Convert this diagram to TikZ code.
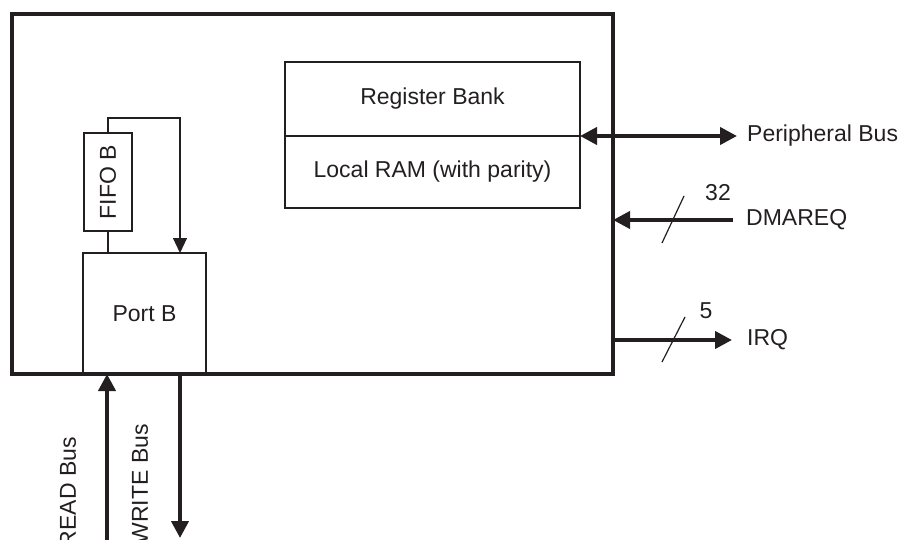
\documentclass[tikz,border=0pt]{standalone}
\usepackage{fontspec}
\setmainfont{Liberation Sans}
\usepackage{tikz}
\usetikzlibrary{arrows.meta, positioning, calc}

\definecolor{ink}{HTML}{231F20}

\tikzset{
    box/.style={draw=ink, line width=2.5pt, inner sep=0pt, outer sep=0pt, text=ink},
    bus/.style={draw=ink, line width=4pt},
    wire/.style={draw=ink, line width=1.2pt},
    busTip/.style={-{Triangle[length=17pt, width=17pt]}},
    lbl/.style={text=ink, inner sep=0pt}
}

\begin{document}
\begin{tikzpicture}[x=1pt, y=-1pt, font=\fontsize{23}{27}\selectfont]
    \useasboundingbox (0,0) rectangle (904,540);
    % outer block
    \node[box, line width=4pt, minimum width=601pt, minimum height=360pt] (core) at (312.5,194) {};
    % register bank / local RAM
    \node[box, minimum width=295pt, minimum height=74pt] (regbank) at (432.5,99) {Register Bank};
    \node[box, minimum width=295pt, minimum height=72pt] (localram) at (432.5,172) {Local RAM (with parity)};
    % port B and FIFO B
    \node[box, minimum width=123pt, minimum height=121pt] (portb) at (144.5,313.5) {Port B};
    \node[box, minimum width=48pt, minimum height=98pt] (fifob) at (108,182) {};
    \node[lbl, rotate=90] (fifolbl) at (fifob.center) {FIFO B};
    \coordinate (portbin) at ([xshift=35.5pt]portb.north);
    \draw[wire] (fifob.south) -- (fifob.south |- portb.north);
    \draw[wire, -{Triangle[length=15pt, width=14pt]}] (fifob.north) -- ++(0,-15) -| (portbin);

    % external buses
    \coordinate (periph) at ([xshift=157pt]regbank.south east);
    \coordinate (dmain) at (733,220);
    \coordinate (irqout) at (732,340);
    \coordinate (readsrc) at (107,560);
    \coordinate (writedst) at (180,538);
    \coordinate (writesrc) at (writedst |- portb.south);

    \draw[bus, {Triangle[length=17pt, width=17pt]}-{Triangle[length=17pt, width=17pt]}] (regbank.south east) -- (periph);
    \draw[bus, busTip] (dmain) -- (core.east |- dmain);
    \draw[bus, busTip] (core.east |- irqout) -- (irqout);
    \draw[bus, busTip] (readsrc) -- (readsrc |- portb.south);
    \draw[bus, busTip] (writesrc) -- (writedst);

    % bus widths
    \draw[wire] ($(dmain)+(-71,23)$) -- ($(dmain)+(-49,-24)$);
    \draw[wire] ($(irqout)+(-70,22)$) -- ($(irqout)+(-47,-23)$);

    \node[lbl, anchor=west] (periphlbl) at ([xshift=10pt]periph) {Peripheral Bus};
    \node[lbl, anchor=west] (dmalbl) at ([xshift=13pt]dmain) {DMAREQ};
    \node[lbl] (dmawidth) at (718,193) {32};
    \node[lbl, anchor=west] (irqlbl) at ([xshift=15pt]irqout) {IRQ};
    \node[lbl] (irqwidth) at (706,311) {5};
    \node[lbl, rotate=90, anchor=east] (readlbl) at (68,437) {READ Bus};
    \node[lbl, rotate=90, anchor=east] (writelbl) at (140,424) {WRITE Bus};
\end{tikzpicture}
\end{document}
